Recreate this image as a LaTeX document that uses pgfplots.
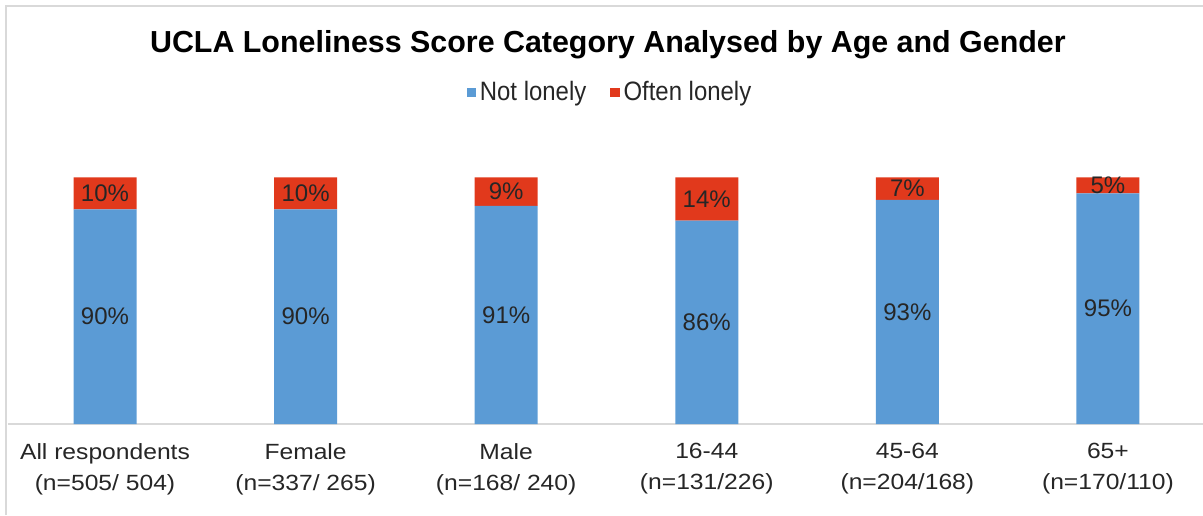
\documentclass[border=0pt]{standalone}
\usepackage{fontspec}
\setmainfont{Liberation Sans}
\newfontfamily\tickfont[FakeStretch=1.12]{Liberation Sans}
\newfontfamily\legfont[FakeStretch=0.9]{Liberation Sans}
\usepackage{pgfplots}
\pgfplotsset{compat=1.18}
\definecolor{nlblue}{RGB}{91,155,213}
\definecolor{olred}{RGB}{225,57,28}
\definecolor{bord}{RGB}{217,217,217}
\definecolor{txt}{RGB}{38,38,38}
\begin{document}
\begin{tikzpicture}
\useasboundingbox (0,0) rectangle (601.5pt,257.5pt);
\draw[bord, line width=1pt] (2.75pt,0) -- (2.75pt,254.5pt) -- (601.5pt,254.5pt);
\begin{axis}[
  at={(4pt,45.5pt)}, anchor=south west,
  scale only axis, width=597.5pt, height=123.35pt,
  ybar stacked, bar width=31.5pt,
  xmin=-0.4836, xmax=5.474, ymin=0, ymax=100,
  axis y line=none, axis x line*=bottom,
  x axis line style={bord, line width=1pt, -},
  xtick={0,1,2,3,4,5},
  xticklabels={{All respondents\\(n=505/ 504)},{Female\\(n=337/ 265)},{Male\\(n=168/ 240)},{16-44\\(n=131/226)},{45-64\\(n=204/168)},{65+\\(n=170/110)}},
  xtick style={draw=none},
  xticklabel style={font=\tickfont\fontsize{11}{15.5}\selectfont, align=center, text=txt, inner sep=0pt, yshift=-9.5pt},
  title={UCLA Loneliness Score Category Analysed by Age and Gender},
  title style={at={(0.502,1)}, anchor=base, yshift=56.5pt, font=\bfseries\fontsize{15.2}{18}\selectfont, inner sep=0pt},
  legend style={at={(0.5046,1)}, anchor=center, yshift=42.5pt, draw=none, fill=none,
    legend columns=-1, font=\legfont\fontsize{13.3}{16}\selectfont, text=txt,
    /tikz/every even column/.append style={column sep=10pt}},
  legend image code/.code={\fill[#1,draw=none] (0pt,-2.3pt) rectangle (4.6pt,2.3pt);},
]
\addplot[fill=nlblue, draw=none] coordinates {(0,87.0) (1,87.0) (2,88.4) (3,82.4) (4,90.8) (5,93.5)};
\addplot[fill=olred, draw=none] coordinates {(0,13.0) (1,13.0) (2,11.6) (3,17.6) (4,9.2) (5,6.5)};
\legend{Not lonely, Often lonely}
\end{axis}
\begin{axis}[
  at={(4pt,45.5pt)}, anchor=south west,
  scale only axis, width=597.5pt, height=123.35pt,
  xmin=-0.4836, xmax=5.474, ymin=0, ymax=100,
  hide axis, clip=false,
]
\addplot[draw=none, mark=none, point meta=explicit,
  nodes near coords={\pgfmathprintnumber[assume math mode=true]{\pgfplotspointmeta}\%},
  nodes near coords align=center,
  every node near coord/.append style={font=\fontsize{12}{14}\selectfont, text=txt, anchor=center, inner sep=0pt}]
  table[meta=v] {
x y v
0 43.5 90
1 43.5 90
2 44.2 91
3 41.2 86
4 45.4 93
5 46.75 95
0 93.5 10
1 93.5 10
2 94.2 9
3 91.2 14
4 95.4 7
5 96.75 5
};
\end{axis}
\end{tikzpicture}
\end{document}
